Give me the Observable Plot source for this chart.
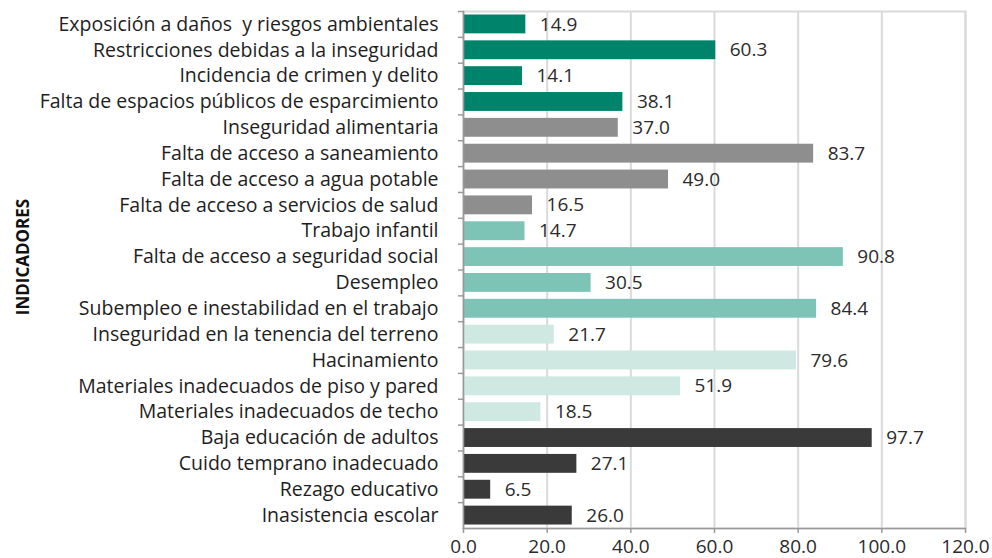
<!DOCTYPE html>
<html><head><meta charset="utf-8">
<script src="https://cdn.jsdelivr.net/npm/d3@7"></script>
<script src="https://cdn.jsdelivr.net/npm/@observablehq/plot@0.6"></script>
<style>body{margin:0;background:#fff;} #chart{position:absolute;left:0;top:0;}</style>
</head><body><div id="chart"></div>
<script>
const categories = [
  "Exposición a daños  y riesgos ambientales",
  "Restricciones debidas a la inseguridad",
  "Incidencia de crimen y delito",
  "Falta de espacios públicos de esparcimiento",
  "Inseguridad alimentaria",
  "Falta de acceso a saneamiento",
  "Falta de acceso a agua potable",
  "Falta de acceso a servicios de salud",
  "Trabajo infantil",
  "Falta de acceso a seguridad social",
  "Desempleo",
  "Subempleo e inestabilidad en el trabajo",
  "Inseguridad en la tenencia del terreno",
  "Hacinamiento",
  "Materiales inadecuados de piso y pared",
  "Materiales inadecuados de techo",
  "Baja educación de adultos",
  "Cuido temprano inadecuado",
  "Rezago educativo",
  "Inasistencia escolar"
];
const values = [14.9, 60.3, 14.1, 38.1, 37.0, 83.7, 49.0, 16.5, 14.7, 90.8, 30.5, 84.4, 21.7, 79.6, 51.9, 18.5, 97.7, 27.1, 6.5, 26.0];
const groups = ["g1","g1","g1","g1","g2","g2","g2","g2","g3","g3","g3","g3","g4","g4","g4","g4","g5","g5","g5","g5"];
const groupNames = ["g1","g2","g3","g4","g5"];
const groupColors = ["#00836b","#8e8e8e","#7dc3b6","#cfe8e2","#3a3a3a"];
const xTicks = [0, 20, 40, 60, 80, 100, 120];
const yTitle = "INDICADORES";

const data = categories.map((c, i) => ({cat: c, value: values[i], group: groups[i]}));
const W = 992, H = 558;
const mTop = 11, mBottom = 30, mLeft = 463, mRight = 27;
const pIn = 0.27, pOut = 0.135;
const step = (H - mTop - mBottom) / (categories.length - pIn + 2 * pOut);
const font = "'Open Sans', sans-serif";
const fmt = d3.format(".1f");

const chart = Plot.plot({
  width: W, height: H,
  marginTop: mTop, marginBottom: mBottom, marginLeft: mLeft, marginRight: mRight,
  style: {fontFamily: font, fontSize: "19px", color: "#222", background: "#fff"},
  x: {domain: [0, 120], ticks: xTicks, tickFormat: fmt},
  y: {domain: categories, paddingInner: pIn, paddingOuter: pOut, round: false, label: null},
  color: {domain: groupNames, range: groupColors},
  marks: [
    Plot.gridX(xTicks, {stroke: "#dadada", strokeOpacity: 1, strokeWidth: 2}),
    Plot.frame({stroke: "#dadada", strokeWidth: 2}),
    Plot.barX(data, {x: "value", y: "cat", fill: "group"}),
    Plot.text(data, {x: "value", y: "cat", text: d => fmt(d.value), dx: 14, textAnchor: "start", fontSize: 19, fill: "#2b2b2b"}),
    Plot.axisY({tickSize: 0, tickPadding: 25, fontSize: 19.5, fill: "#1e1e1e"}),
    Plot.axisY({tickSize: 5, text: null, dy: -step / 2, stroke: "#9a9a9a", strokeWidth: 1.5}),
    Plot.frame({anchor: "left", stroke: "#9a9a9a", strokeWidth: 1.5}),
    Plot.frame({anchor: "bottom", stroke: "#9a9a9a", strokeWidth: 1.5}),
    Plot.axisX(xTicks, {tickSize: 5, tickPadding: 6, fontSize: 19, fill: "#2b2b2b", stroke: "#9a9a9a", strokeWidth: 1.5, tickFormat: fmt, label: null})
  ]
});
document.getElementById("chart").appendChild(chart);

// y-axis title
const svg = d3.select(chart);
svg.append("text")
  .attr("transform", `translate(22,257) rotate(-90)`)
  .attr("text-anchor", "middle")
  .attr("dominant-baseline", "central")
  .attr("font-family", font)
  .attr("font-weight", "bold")
  .attr("font-size", 17)
  .attr("fill", "#111")
  .text(yTitle);
</script>
</body></html>
